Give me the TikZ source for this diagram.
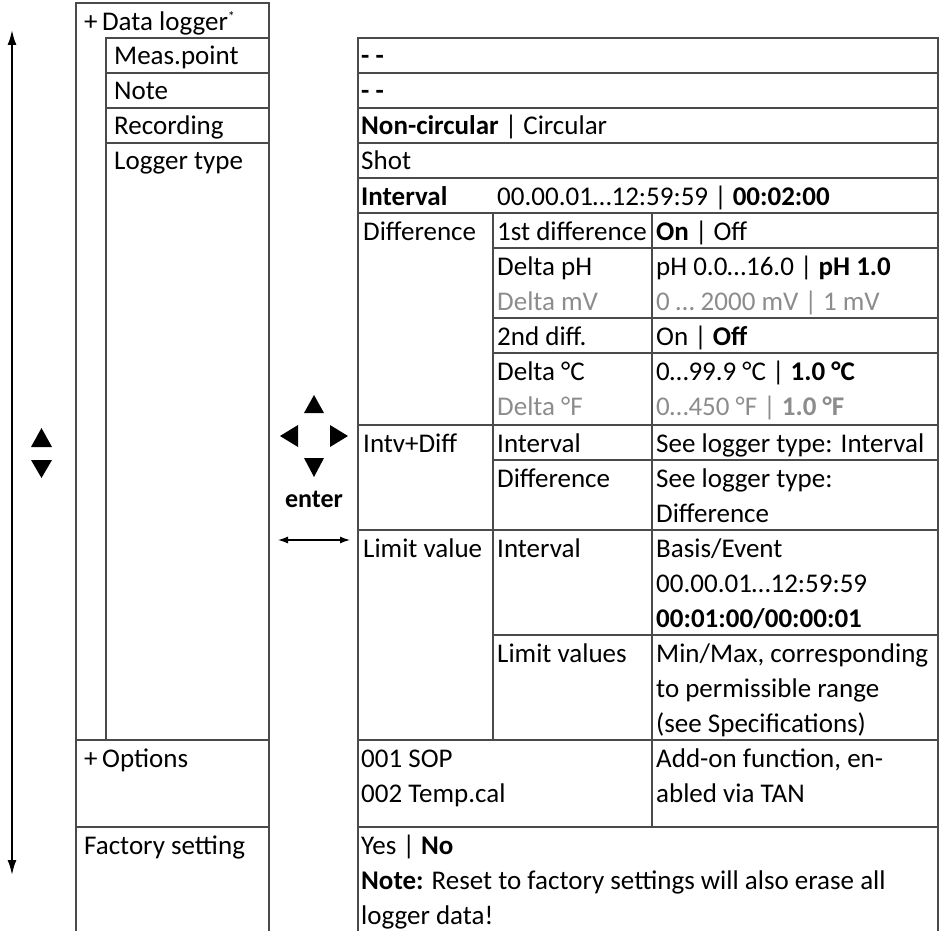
\documentclass[tikz,border=0pt]{standalone}
\usepackage{fontspec}
\setmainfont{Carlito}
\usetikzlibrary{arrows.meta}
\definecolor{rulec}{HTML}{4A4A4A}
\definecolor{dimc}{HTML}{8C8C8C}
\begin{document}
\begin{tikzpicture}[x=1pt,y=-1pt,
  rule/.style={draw=rulec, line width=1.3pt},
  txt/.style={anchor=base west, inner sep=0pt, font=\fontsize{27}{35}\selectfont},
  dimtxt/.style={txt, text=dimc},
  tri/.style={fill=black, draw=none},
  navarrow/.style={line width=2pt, {Latex[length=15pt,width=9pt]}-{Latex[length=15pt,width=9pt]}},
  swaparrow/.style={line width=1.3pt, {Latex[length=10pt,width=7pt]}-{Latex[length=10pt,width=7pt]}}]
\useasboundingbox (0,0) rectangle (940,931);
% ---------- left table ----------
\draw[rule] (76,931) -- (76,3) -- (269,3) -- (269,931);
\draw[rule] (106,740) -- (106,38) -- (269,38);
\draw[rule] (106,73) -- (269,73);
\draw[rule] (106,108) -- (269,108);
\draw[rule] (106,143) -- (269,143);
\draw[rule] (76,740) -- (269,740);
\draw[rule] (76,827) -- (269,827);
% ---------- right table ----------
\draw[rule] (358,931) -- (358,38) -- (938,38) -- (938,931);
\foreach \yy in {73,108,143,178,213,425,530,740,827}
  \draw[rule] (358,\yy) -- (938,\yy);
\foreach \yy in {248,318,353,460,635}
  \draw[rule] (493,\yy) -- (938,\yy);
\draw[rule] (493,213) -- (493,740);
\draw[rule] (652,213) -- (652,827);
% ---------- left texts ----------
\node[txt] (dl) at (84,31) {+\,Data logger\textsuperscript{\fontsize{14}{14}\selectfont *}};
\node[txt] (mp) at (114,65) {Meas.point};
\node[txt] (nt) at (114,100) {Note};
\node[txt] (rc) at (114,135) {Recording};
\node[txt] (lt) at (114,170) {Logger type};
\node[txt] (op) at (84,767) {+\,Options};
\node[txt] (fs) at (84,854) {Factory setting};
% ---------- right texts ----------
\node[txt] (v1) at (361,65) {\textbf{- -}};
\node[txt] (v2) at (361,100) {\textbf{- -}};
\node[txt] (v3) at (361,135) {\textbf{Non-circular} | Circular};
\node[txt] (v4) at (361,170) {Shot};
\node[txt] (v5) at (361,205) {\textbf{Interval}};
\node[txt] (v5b) at (497,205) {00.00.01…12:59:59 | \textbf{00:02:00}};
\node[txt] (df) at (363,240) {Difference};
\node[txt] (d1) at (497,240) {1st difference};
\node[txt] (d1v) at (656,240) {\textbf{On} | Off};
\node[txt] (d2) at (497,275) {Delta pH};
\node[txt] (d2v) at (656,275) {pH 0.0…16.0 | \textbf{pH 1.0}};
\node[dimtxt] (d3) at (497,310) {Delta mV};
\node[dimtxt] (d3v) at (656,310) {0 … 2000 mV | 1 mV};
\node[txt] (d4) at (497,345) {2nd diff.};
\node[txt] (d4v) at (656,345) {On | \textbf{Off}};
\node[txt] (d5) at (497,380) {Delta °C};
\node[txt] (d5v) at (656,380) {0…99.9 °C | \textbf{1.0 °C}};
\node[dimtxt] (d6) at (497,415) {Delta °F};
\node[dimtxt] (d6v) at (656,415) {0…450 °F | \textbf{1.0 °F}};
\node[txt] (id) at (363,452) {Intv+Diff};
\node[txt] (i1) at (497,452) {Interval};
\node[txt] (i1v) at (656,452) {See logger type: Interval};
\node[txt] (i2) at (497,487) {Difference};
\node[txt] (i2v) at (656,487) {See logger type:};
\node[txt] (i2w) at (656,522) {Difference};
\node[txt] (lv) at (363,557) {Limit value};
\node[txt] (l1) at (497,557) {Interval};
\node[txt] (l1a) at (656,557) {Basis/Event};
\node[txt] (l1b) at (656,592) {00.00.01…12:59:59};
\node[txt] (l1c) at (656,627) {\textbf{00:01:00/00:00:01}};
\node[txt] (l2) at (497,662) {Limit values};
\node[txt] (l2a) at (656,662) {Min/Max, corresponding};
\node[txt] (l2b) at (656,697) {to permissible range};
\node[txt] (l2c) at (656,732) {(see Specifications)};
\node[txt] (o1) at (361,767) {001 SOP};
\node[txt] (o2) at (361,802) {002 Temp.cal};
\node[txt] (o3) at (656,767) {Add-on function, en-};
\node[txt] (o4) at (656,802) {abled via TAN};
\node[txt] (f1) at (361,854) {Yes | \textbf{No}};
\node[txt] (f2) at (361,889) {\textbf{Note:} Reset to factory settings will also erase all};
\node[txt] (f3) at (361,924) {logger data!};
% ---------- navigation symbols ----------
\coordinate (atop) at (12,30);
\coordinate (abot) at (12,875);
\draw[navarrow] (atop) -- (abot);
\fill[tri] (31,447) -- (52,447) -- (41.5,428) -- cycle;
\fill[tri] (31,460) -- (52,460) -- (41.5,478) -- cycle;
\fill[tri] (304,413) -- (324,413) -- (314,395) -- cycle;
\fill[tri] (304,458) -- (324,458) -- (314,477) -- cycle;
\fill[tri] (298,425) -- (298,447) -- (280,436) -- cycle;
\fill[tri] (330,425) -- (330,447) -- (348,436) -- cycle;
\node[anchor=base, inner sep=0pt, font=\fontsize{26}{35}\selectfont\bfseries] (en) at (314,507) {enter};
\coordinate (sl) at (278,540);
\coordinate (sr) at (350,540);
\draw[swaparrow] (sl) -- (sr);
\end{tikzpicture}
\end{document}
